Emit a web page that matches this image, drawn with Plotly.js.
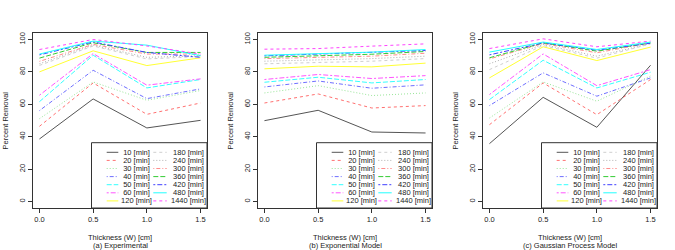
<!DOCTYPE html>
<html>
<head>
<meta charset="utf-8">
<script src="https://cdn.plot.ly/plotly-3.0.1.min.js"></script>
<style>html,body{margin:0;padding:0;background:#fff;}#chart{width:675px;height:250px;}</style>
</head>
<body>
<div id="chart"></div>
<script>
// ---- data ----
const thickness = [0.0, 0.5, 1.0, 1.5];
const xTickLabels = ["0.0", "0.5", "1.0", "1.5"];
const yTicks = [0, 20, 40, 60, 80, 100];
const times = [10, 20, 30, 40, 50, 60, 120, 180, 240, 300, 360, 420, 480, 1440];
const panelTitles = ["(a) Experimental", "(b) Exponential Model", "(c) Gaussian Process Model"];
const xTitle = "Thickness (W) [cm]";
const yTitle = "Percent Removal";

// rows follow `times`, columns follow `thickness`
const experimental = [
  [38.6, 63.3, 45.4, 50.1],
  [46.4, 73.2, 53.8, 60.8],
  [51.1, 73.8, 62.5, 68.5],
  [56.1, 81.0, 63.5, 69.5],
  [61.6, 90.3, 70.1, 75.3],
  [65.6, 91.3, 71.8, 75.7],
  [80.0, 93.0, 83.9, 88.7],
  [84.0, 96.0, 88.0, 89.5],
  [85.0, 96.5, 89.0, 90.0],
  [86.5, 97.0, 91.0, 91.0],
  [88.5, 98.0, 92.0, 92.0],
  [90.5, 98.5, 92.0, 89.0],
  [91.0, 99.0, 96.5, 90.0],
  [93.8, 100.0, 96.0, 91.0]
];
const exponentialModel = [
  [49.9, 56.3, 42.9, 42.3],
  [60.8, 66.4, 57.7, 59.2],
  [67.0, 71.5, 65.4, 67.0],
  [70.7, 74.4, 69.9, 72.0],
  [73.6, 76.7, 73.2, 75.3],
  [75.3, 78.4, 75.9, 77.7],
  [81.9, 83.5, 83.1, 85.4],
  [85.0, 86.0, 86.6, 88.2],
  [86.6, 87.6, 88.2, 89.7],
  [88.2, 89.0, 89.7, 91.5],
  [89.0, 90.1, 90.9, 92.6],
  [89.9, 90.9, 91.8, 93.2],
  [90.3, 91.1, 92.2, 93.8],
  [94.0, 94.4, 95.9, 97.3]
];
const gaussianModel = [
  [35.7, 64.3, 45.8, 84.1],
  [47.4, 73.2, 53.6, 75.3],
  [51.5, 73.8, 61.9, 77.5],
  [59.2, 79.4, 65.0, 76.3],
  [62.9, 87.2, 70.1, 79.8],
  [66.0, 91.1, 71.5, 81.4],
  [76.3, 95.5, 87.0, 95.3],
  [81.4, 96.3, 88.5, 97.3],
  [85.0, 96.9, 89.7, 97.5],
  [88.0, 97.5, 91.8, 97.9],
  [88.7, 97.9, 92.8, 97.9],
  [90.5, 97.9, 93.4, 97.7],
  [92.2, 98.4, 93.8, 98.4],
  [94.4, 100.4, 95.5, 99.0]
];

// ---- styles ----
const colors = ["#555555", "#ff7070", "#99e699", "#6f6fff", "#33ffff", "#ff55ff", "#ffff33",
                "#cfcfcf", "#b0b0b0", "#ff8c8c", "#33cc33", "#4040ff", "#22ffff", "#ff44ff"];
const dashes = ["solid", "3px,3px", "1px,2px", "1px,2px,4px,2px", "5px,2px", "2px,2px,5px,2px", "solid",
                "3px,3px", "1px,2px", "1px,2px,4px,2px", "5px,2px", "2px,2px,5px,2px", "solid", "3px,3px"];

const W = 675, H = 250;
const FONT = "Liberation Sans, Arial, sans-serif";
const FS = 7.5;
const TXT = "#222222";
const panels = [experimental, exponentialModel, gaussianModel];
const box = {l: 33, r: 207, t: 33, b: 208};
const dxPanel = 225;

const px = x => x / W;
const py = y => 1 - y / H;

const traces = [];
const layout = {
  width: W, height: H,
  margin: {l: 0, r: 0, t: 0, b: 0},
  paper_bgcolor: "#ffffff", plot_bgcolor: "#ffffff",
  showlegend: false,
  font: {family: FONT, size: FS, color: TXT},
  shapes: [], annotations: []
};

panels.forEach((data, p) => {
  const sfx = p === 0 ? "" : String(p + 1);
  const off = p * dxPanel;
  times.forEach((t, i) => {
    traces.push({
      type: "scatter", mode: "lines",
      x: thickness, y: data[i],
      xaxis: "x" + sfx, yaxis: "y" + sfx,
      name: t + " [min]",
      line: {color: colors[i], width: 1, dash: dashes[i]},
      hoverinfo: "skip"
    });
  });
  const axCommon = {
    showgrid: false, zeroline: false, showline: true, mirror: true,
    linecolor: "#333333", linewidth: 1,
    ticks: "outside", ticklen: 4, tickcolor: "#333333", tickwidth: 1,
    tickfont: {family: FONT, size: FS, color: TXT}
  };
  layout["xaxis" + sfx] = Object.assign({}, axCommon, {
    domain: [px(box.l + off), px(box.r + off)],
    range: [-0.06, 1.56],
    tickmode: "array", tickvals: thickness, ticktext: xTickLabels,
    anchor: "y" + sfx
  });
  layout["yaxis" + sfx] = Object.assign({}, axCommon, {
    domain: [py(box.b), py(box.t)],
    range: [-4, 104],
    tickmode: "array", tickvals: yTicks, ticktext: yTicks.map(String),
    tickangle: -90,
    anchor: "x" + sfx
  });
  // axis titles
  layout.annotations.push({
    xref: "paper", yref: "paper", x: px((box.l + box.r) / 2 + off), y: py(237.3),
    text: xTitle, showarrow: false, xanchor: "center", yanchor: "middle",
    font: {family: FONT, size: FS, color: TXT}
  });
  layout.annotations.push({
    xref: "paper", yref: "paper", x: px((box.l + box.r) / 2 + off), y: py(245.3),
    text: panelTitles[p], showarrow: false, xanchor: "center", yanchor: "middle",
    font: {family: FONT, size: FS, color: TXT}
  });
  layout.annotations.push({
    xref: "paper", yref: "paper", x: px(5 + off), y: py((box.t + box.b) / 2),
    text: yTitle, showarrow: false, textangle: -90, xanchor: "center", yanchor: "middle",
    font: {family: FONT, size: FS, color: TXT}
  });
  // legend box
  layout.shapes.push({
    type: "rect", xref: "paper", yref: "paper",
    x0: px(91.5 + off), x1: px(box.r + off), y0: py(box.b), y1: py(142.7),
    line: {color: "#333333", width: 1}, fillcolor: "#ffffff", layer: "above"
  });
  times.forEach((t, i) => {
    const col = i < 7 ? 0 : 1;
    const row = i % 7;
    const yy = 152.3 + row * 8.1;
    const lx0 = col === 0 ? 106.7 : 153.3;
    const lx1 = col === 0 ? 118.3 : 166.7;
    const tx = col === 0 ? 116.5 : 169.0;
    layout.shapes.push({
      type: "line", xref: "paper", yref: "paper",
      x0: px(lx0 + off), x1: px(lx1 + off), y0: py(yy), y1: py(yy),
      line: {color: colors[i], width: 1, dash: dashes[i]}, layer: "above"
    });
    const lbl = String(t).padStart(4, "\u00A0") + " [min]";
    layout.annotations.push({
      xref: "paper", yref: "paper", x: px(tx + off), y: py(yy),
      text: lbl, showarrow: false, xanchor: "left", yanchor: "middle",
      font: {family: FONT, size: FS, color: TXT}
    });
  });
});

Plotly.newPlot("chart", traces, layout, {staticPlot: true, displayModeBar: false});
</script>
</body>
</html>
